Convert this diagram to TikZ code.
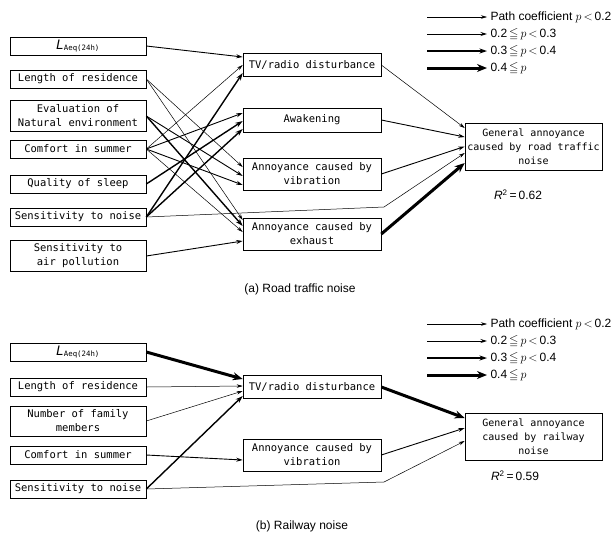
\documentclass[tikz,border=0pt]{standalone}
\usepackage{amssymb}
\usepackage{fontspec}
\setmainfont{Liberation Sans}
\newfontfamily\boxfont{DejaVu Sans Mono}
\usetikzlibrary{arrows.meta}

\begin{document}
\begin{tikzpicture}[x=1pt,y=-1pt,
  every node/.style={font=\fontsize{12}{14}\selectfont},
  box/.style={draw, line width=0.6pt, inner sep=0pt, align=center, minimum width=136pt, minimum height=18pt, font=\boxfont\fontsize{10.5}{14}\selectfont},
  midbox/.style={box, minimum width=138pt, minimum height=24pt},
  endbox/.style={box, minimum width=137pt, minimum height=47pt, font=\boxfont\fontsize{10}{14}\selectfont},
  coefa/.style={line width=0.5pt, -{Stealth[length=6pt,width=3.5pt]}},
  coefb/.style={line width=0.9pt, -{Stealth[length=6.5pt,width=4pt]}},
  coefc/.style={line width=1.4pt, -{Stealth[length=7.5pt,width=5pt]}},
  coefd/.style={line width=3pt, -{Stealth[length=10pt,width=8pt]}}]
\useasboundingbox (0,0) rectangle (613,542);

% (a) road traffic noise
\node[box] (laeqA) at (78,46) {{\fontsize{13}{14}\selectfont\textit{L}}\textsubscript{Aeq(24h)}};
\node[box] (lenA) at (78,79) {Length of residence};
\node[box, minimum height=31pt] (evalA) at (78,116) {Evaluation of\\Natural environment};
\node[box] (comfA) at (78,149) {Comfort in summer};
\node[box] (sleepA) at (78,184) {Quality of sleep};
\node[box] (sensA) at (78,217) {Sensitivity to noise};
\node[box, minimum height=31pt] (airA) at (78,256) {Sensitivity to\\air pollution};
\node[midbox, minimum height=23pt] (tvA) at (312,65) {TV/radio disturbance};
\node[midbox] (wakeA) at (312,120) {Awakening};
\node[midbox, minimum height=32pt] (vibA) at (312,174) {Annoyance caused by\\vibration};
\node[midbox, minimum height=32pt] (exhA) at (312,234) {Annoyance caused by\\exhaust};
\node[endbox] (genA) at (533.5,146.5) {General annoyance\\caused by road traffic\\noise};
\coordinate (bendA) at (384,207);

\draw[coefb] (laeqA.east) -- ([yshift=8pt]tvA.west);
\draw[coefa] (lenA.east) -- ([yshift=7pt]vibA.west);
\draw[coefa] (lenA.east) -- ([yshift=14pt]exhA.west);
\draw[coefb] (evalA.east) -- ([yshift=-2pt]vibA.west);
\draw[coefc] (evalA.east) -- ([yshift=8pt]exhA.west);
\draw[coefa] (comfA.east) -- (tvA.west);
\draw[coefb] (comfA.east) -- ([yshift=7pt]wakeA.west);
\draw[coefb] (comfA.east) -- ([yshift=-11pt]vibA.west);
\draw[coefa] (comfA.east) -- ([yshift=2pt]exhA.west);
\draw[coefc] (sleepA.east) -- ([yshift=-1pt]wakeA.west);
\draw[coefc] (sensA.east) -- ([yshift=-8pt]tvA.west);
\draw[coefc] (sensA.east) -- ([yshift=-9pt]wakeA.west);
\draw[coefa] (sensA.east) -- (bendA) -- ([yshift=-6.5pt]genA.west);
\draw[coefb] (airA.east) -- ([yshift=-7pt]exhA.west);
\draw[coefa] (tvA.east) -- ([yshift=18.5pt]genA.west);
\draw[coefb] (wakeA.east) -- ([yshift=9.5pt]genA.west);
\draw[coefb] (vibA.east) -- (genA.west);
\draw[coefd] (exhA.east) -- ([yshift=-16.5pt]genA.west);

\node (r2A) at (518,195) {\textit{R}\textsuperscript{2}\,=\,0.62};
\node (capA) at (300,289) {(a) Road traffic noise};

\node[anchor=west] (legaA) at (487,17) {Path coefficient $p\,{<}\,$0.2};
\node[anchor=west] (legbA) at (487,34) {0.2$\,{\leqq}\,p\,{<}\,$0.3};
\node[anchor=west] (legcA) at (487,51) {0.3$\,{\leqq}\,p\,{<}\,$0.4};
\node[anchor=west] (legdA) at (487,68) {0.4$\,{\leqq}\,p$};
\coordinate (saA) at (427,17);
\coordinate (sbA) at (427,34);
\coordinate (scA) at (427,51);
\coordinate (sdA) at (427,68);
\draw[coefa] (saA) -- (legaA.west);
\draw[coefb] (sbA) -- (legbA.west);
\draw[coefc] (scA) -- (legcA.west);
\draw[coefd] (sdA) -- (legdA.west);

% (b) railway noise
\node[box] (laeqB) at (78,352) {{\fontsize{13}{14}\selectfont\textit{L}}\textsubscript{Aeq(24h)}};
\node[box] (lenB) at (78,387) {Length of residence};
\node[box, minimum height=30pt] (famB) at (78,421) {Number of family\\members};
\node[box] (comfB) at (78,455) {Comfort in summer};
\node[box] (sensB) at (78,489) {Sensitivity to noise};
\node[midbox, minimum height=23pt] (tvB) at (312,387) {TV/radio disturbance};
\node[midbox, minimum height=32pt] (vibB) at (312,455) {Annoyance caused by\\vibration};
\node[endbox] (genB) at (533.5,436.5) {General annoyance\\caused by railway\\noise};
\coordinate (bendB) at (384,482);

\draw[coefd] (laeqB.east) -- ([yshift=8pt]tvB.west);
\draw[coefa] (lenB.east) -- ([yshift=1pt]tvB.west);
\draw[coefa] (famB.east) -- ([yshift=-4pt]tvB.west);
\draw[coefc] (sensB.east) -- ([yshift=-9pt]tvB.west);
\draw[coefb] (comfB.east) -- ([yshift=-5pt]vibB.west);
\draw[coefd] (tvB.east) -- ([yshift=18.5pt]genB.west);
\draw[coefb] (vibB.east) -- ([yshift=8.5pt]genB.west);
\draw[coefa] (sensB.east) -- (bendB) -- ([yshift=-4.5pt]genB.west);

\node (r2B) at (515,476) {\textit{R}\textsuperscript{2}\,=\,0.59};
\node (capB) at (302,526) {(b) Railway noise};

\node[anchor=west] (legaB) at (487,324) {Path coefficient $p\,{<}\,$0.2};
\node[anchor=west] (legbB) at (487,341) {0.2$\,{\leqq}\,p\,{<}\,$0.3};
\node[anchor=west] (legcB) at (487,358) {0.3$\,{\leqq}\,p\,{<}\,$0.4};
\node[anchor=west] (legdB) at (487,375) {0.4$\,{\leqq}\,p$};
\coordinate (saB) at (427,324);
\coordinate (sbB) at (427,341);
\coordinate (scB) at (427,358);
\coordinate (sdB) at (427,375);
\draw[coefa] (saB) -- (legaB.west);
\draw[coefb] (sbB) -- (legbB.west);
\draw[coefc] (scB) -- (legcB.west);
\draw[coefd] (sdB) -- (legdB.west);
\end{tikzpicture}
\end{document}
